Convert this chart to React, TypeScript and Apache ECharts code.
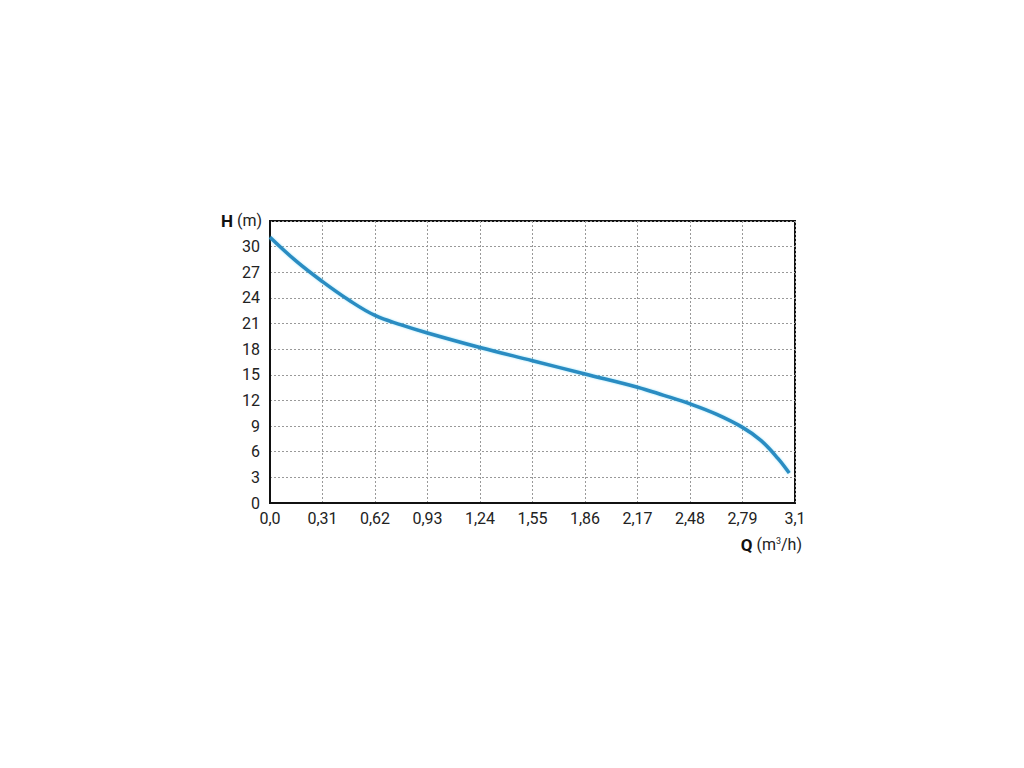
import React, { useEffect, useRef } from "react";
import * as echarts from "echarts";

const flowQ = [0, 0.155, 0.31, 0.465, 0.62, 0.775, 0.93, 1.24, 1.55, 1.86, 2.17, 2.325, 2.48, 2.635, 2.79, 2.9, 3.0, 3.066];
const headH = [31.1, 28.3, 25.9, 23.75, 21.95, 20.85, 19.9, 18.2, 16.65, 15.1, 13.55, 12.6, 11.6, 10.4, 8.85, 7.3, 5.2, 3.5];
const xTickLabels = ["0,0", "0,31", "0,62", "0,93", "1,24", "1,55", "1,86", "2,17", "2,48", "2,79", "3,1"];
const yTickLabels = ["0", "3", "6", "9", "12", "15", "18", "21", "24", "27", "30"];

const FONT = "Roboto";

export default function App() {
  const ref = useRef<HTMLDivElement>(null);
  useEffect(() => {
    if (!ref.current) return;
    const chart = echarts.init(ref.current, undefined, { renderer: "svg" });
    chart.setOption({
      animation: false,
      backgroundColor: "#fff",
      grid: {
        left: 270,
        top: 221,
        right: 229,
        bottom: 265,
        show: true,
        borderColor: "#111",
        borderWidth: 2,
        backgroundColor: "transparent",
      },
      xAxis: {
        type: "value",
        min: 0,
        max: 3.1,
        interval: 0.31,
        axisLine: { show: true, lineStyle: { color: "#111", width: 2 } },
        axisTick: { show: false },
        axisLabel: {
          margin: 7,
          fontFamily: FONT,
          fontSize: 16,
          color: "#222",
          formatter: (v: number) => xTickLabels[Math.round(v / 0.31)] ?? "",
        },
        splitLine: { show: true, lineStyle: { color: "#999", type: [2, 2], width: 1 } },
      },
      yAxis: {
        type: "value",
        min: 0,
        max: 33,
        interval: 3,
        axisLine: { show: true, lineStyle: { color: "#111", width: 2 } },
        axisTick: { show: false },
        axisLabel: {
          margin: 10,
          fontFamily: FONT,
          fontSize: 16,
          color: "#222",
          formatter: (v: number) => yTickLabels[Math.round(v / 3)] ?? "",
        },
        splitLine: { show: true, lineStyle: { color: "#999", type: [2, 2], width: 1 } },
      },
      graphic: [
        {
          type: "text",
          right: 1024 - 262,
          top: 212,
          style: {
            text: "{b|H} (m)",
            fontFamily: FONT,
            fontSize: 16,
            fill: "#222",
            rich: { b: { fontWeight: "bold", fontSize: 17, fontFamily: FONT, fill: "#111" } },
          },
        },
        {
          type: "text",
          right: 1024 - 802,
          top: 536,
          style: {
            text: "{b|Q} (m{s|3}/h)",
            fontFamily: FONT,
            fontSize: 16,
            fill: "#222",
            rich: {
              b: { fontWeight: "bold", fontSize: 17, fontFamily: FONT, fill: "#111" },
              s: { fontSize: 9, fontFamily: FONT, fill: "#222", verticalAlign: "top", padding: [0, 0, 6, 0] },
            },
          },
        },
      ],
      series: [
        {
          type: "line",
          data: flowQ.map((q, i) => [q, headH[i]]),
          smooth: 0.4,
          showSymbol: false,
          lineStyle: {
            color: "#2a8cc2",
            width: 3.5,
            shadowColor: "rgba(90,210,245,0.6)",
            shadowBlur: 2,
          },
        },
      ],
    });
    return () => chart.dispose();
  }, []);
  return <div ref={ref} style={{ width: 1024, height: 768, position: "absolute", left: 0, top: 0 }} />;
}
